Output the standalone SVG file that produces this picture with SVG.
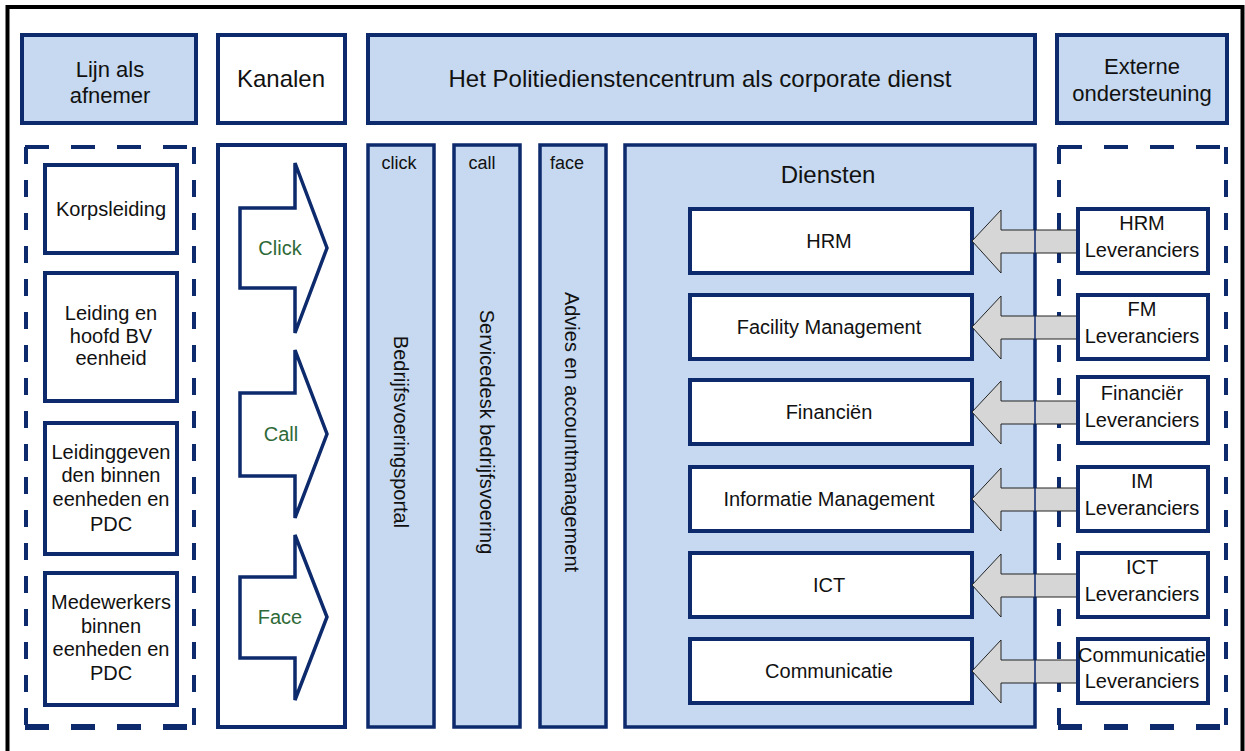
<svg xmlns="http://www.w3.org/2000/svg" width="1245" height="751" viewBox="0 0 1245 751">
<style>
text{font-family:"Liberation Sans",Arial,sans-serif;fill:#111;}
.blue{fill:#c6d9f0;stroke:#0c2a6c;stroke-width:4;}
.white{fill:#fff;stroke:#0c2a6c;stroke-width:4;}
.col{fill:#c6d9f0;stroke:#0c2a6c;stroke-width:3.5;}
.hdr{font-size:24px;text-anchor:middle;}
.hdr2{font-size:22px;text-anchor:middle;}
.lbl{font-size:20px;text-anchor:middle;}
.sm{font-size:18px;text-anchor:middle;}
.grn{font-size:20px;text-anchor:middle;fill:#2e6a38;}
.chan{fill:#fff;stroke:#0c2a6c;stroke-width:3.5;stroke-linejoin:miter;}
.dh{stroke:#0c2a6c;stroke-width:4;stroke-dasharray:24 22;fill:none;}
.dv{stroke:#0c2a6c;stroke-width:4;stroke-dasharray:17 16;fill:none;}
.garrow{fill:#d6d6d6;stroke:#222;stroke-width:1;}
</style>
<rect x="0" y="0" width="1245" height="751" fill="#fff"/>
<rect x="7.5" y="7" width="1235" height="800" fill="none" stroke="#000" stroke-width="4"/>

<!-- Header row -->
<g id="hdr-lijn">
<rect class="blue" x="22" y="35" width="174" height="88"/>
<text class="hdr2" x="110" y="77">Lijn als</text>
<text class="hdr2" x="110" y="103">afnemer</text>
</g>
<g id="hdr-kanalen">
<rect class="white" x="218" y="35" width="127" height="88"/>
<text class="hdr" x="281" y="87">Kanalen</text>
</g>
<g id="hdr-pdc">
<rect class="blue" x="368" y="35" width="667" height="88"/>
<text class="hdr" x="700" y="87">Het Politiedienstencentrum als corporate dienst</text>
</g>
<g id="hdr-extern">
<rect class="blue" x="1057" y="35" width="170" height="88"/>
<text class="hdr2" x="1142" y="74">Externe</text>
<text class="hdr2" x="1142" y="101">ondersteuning</text>
</g>

<!-- Left dashed container -->
<g id="lijn-container">
<line class="dh" x1="25" y1="147" x2="195" y2="147"/>
<line class="dh" x1="25" y1="727" x2="195" y2="727" style="stroke-width:6"/>
<line class="dv" x1="26" y1="147" x2="26" y2="727"/>
<line class="dv" x1="194" y1="147" x2="194" y2="727"/>
</g>
<g id="korpsleiding">
<rect class="white" x="45" y="165" width="132" height="88"/>
<text class="lbl" x="111" y="216">Korpsleiding</text>
</g>
<g id="leiding-hoofd">
<rect class="white" x="45" y="273" width="132" height="128"/>
<text class="lbl" x="111" y="320">Leiding en</text>
<text class="lbl" x="111" y="343">hoofd BV</text>
<text class="lbl" x="111" y="365">eenheid</text>
</g>
<g id="leidinggevenden">
<rect class="white" x="45" y="423" width="132" height="131"/>
<text class="lbl" x="111" y="459">Leidinggeven</text>
<text class="lbl" x="111" y="482">den binnen</text>
<text class="lbl" x="111" y="506">eenheden en</text>
<text class="lbl" x="111" y="531">PDC</text>
</g>
<g id="medewerkers">
<rect class="white" x="45" y="573" width="132" height="132"/>
<text class="lbl" x="111" y="609">Medewerkers</text>
<text class="lbl" x="111" y="633">binnen</text>
<text class="lbl" x="111" y="656">eenheden en</text>
<text class="lbl" x="111" y="680">PDC</text>
</g>

<!-- Kanalen column -->
<g id="kanalen-container">
<rect class="white" x="218" y="145" width="127" height="582"/>
</g>
<g id="kanaal-click">
<polygon class="chan" points="240,208 295,208 295,163 327,248 295,333 295,288 240,288"/>
<text class="grn" x="280" y="255">Click</text>
</g>
<g id="kanaal-call">
<polygon class="chan" points="240,393 295,393 295,350 327,434 295,518 295,476 240,476"/>
<text class="grn" x="281" y="441">Call</text>
</g>
<g id="kanaal-face">
<polygon class="chan" points="240,577 295,577 295,535 327,617 295,700 295,658 240,658"/>
<text class="grn" x="280" y="624">Face</text>
</g>

<!-- Channel columns -->
<g id="col-click">
<rect class="col" x="368" y="145" width="66" height="582"/>
<text class="sm" x="399" y="169">click</text>
<text class="lbl" transform="translate(401,432) rotate(90)" x="0" y="7">Bedrijfsvoeringsportal</text>
</g>
<g id="col-call">
<rect class="col" x="454" y="145" width="66" height="582"/>
<text class="sm" x="482" y="169">call</text>
<text class="lbl" transform="translate(487,432) rotate(90)" x="0" y="7">Servicedesk bedrijfsvoering</text>
</g>
<g id="col-face">
<rect class="col" x="540" y="145" width="66" height="582"/>
<text class="sm" x="567" y="169">face</text>
<text class="lbl" transform="translate(572,432) rotate(90)" x="0" y="7">Advies en accountmanagement</text>
</g>

<!-- Diensten -->
<g id="diensten">
<rect class="col" x="625" y="145" width="410" height="582"/>
<text class="hdr" x="828" y="183">Diensten</text>
</g>
<g id="d-hrm">
<rect class="white" x="690" y="209" width="282" height="64"/>
<text class="lbl" x="829" y="248">HRM</text>
</g>
<g id="d-fm">
<rect class="white" x="690" y="295" width="282" height="64"/>
<text class="lbl" x="829" y="334">Facility Management</text>
</g>
<g id="d-fin">
<rect class="white" x="690" y="380" width="282" height="64"/>
<text class="lbl" x="829" y="419">Financiën</text>
</g>
<g id="d-im">
<rect class="white" x="690" y="467" width="282" height="64"/>
<text class="lbl" x="829" y="506">Informatie Management</text>
</g>
<g id="d-ict">
<rect class="white" x="690" y="553" width="282" height="64"/>
<text class="lbl" x="829" y="592">ICT</text>
</g>
<g id="d-comm">
<rect class="white" x="690" y="639" width="282" height="64"/>
<text class="lbl" x="829" y="678">Communicatie</text>
</g>

<!-- Right dashed container -->
<g id="extern-container">
<line class="dh" x1="1058" y1="147" x2="1227" y2="147"/>
<line class="dh" x1="1058" y1="727" x2="1227" y2="727" style="stroke-width:6"/>
<line class="dv" x1="1059" y1="147" x2="1059" y2="727"/>
<line class="dv" x1="1226" y1="147" x2="1226" y2="727"/>
</g>

<!-- Connectors -->
<g id="connectors">
<polygon class="garrow" points="972,241 1001,210 1001,230 1078,230 1078,253 1001,253 1001,273"/>
<polygon class="garrow" points="972,327 1001,296 1001,316 1078,316 1078,339 1001,339 1001,359"/>
<polygon class="garrow" points="972,412 1001,381 1001,401 1078,401 1078,424 1001,424 1001,444"/>
<polygon class="garrow" points="972,499 1001,468 1001,488 1078,488 1078,511 1001,511 1001,531"/>
<polygon class="garrow" points="972,585 1001,554 1001,574 1078,574 1078,597 1001,597 1001,617"/>
<polygon class="garrow" points="972,671 1001,640 1001,660 1078,660 1078,683 1001,683 1001,703"/>
<line x1="1035" y1="145" x2="1035" y2="727" stroke="#0c2a6c" stroke-width="1.5"/>
</g>

<g id="l-hrm">
<rect class="white" x="1078" y="209" width="130" height="64"/>
<text class="lbl" x="1142" y="230">HRM</text>
<text class="lbl" x="1142" y="257">Leveranciers</text>
</g>
<g id="l-fm">
<rect class="white" x="1078" y="295" width="130" height="64"/>
<text class="lbl" x="1142" y="316">FM</text>
<text class="lbl" x="1142" y="343">Leveranciers</text>
</g>
<g id="l-fin">
<rect class="white" x="1078" y="377" width="130" height="66"/>
<text class="lbl" x="1142" y="400">Financiër</text>
<text class="lbl" x="1142" y="427">Leveranciers</text>
</g>
<g id="l-im">
<rect class="white" x="1078" y="467" width="130" height="64"/>
<text class="lbl" x="1142" y="488">IM</text>
<text class="lbl" x="1142" y="515">Leveranciers</text>
</g>
<g id="l-ict">
<rect class="white" x="1078" y="553" width="130" height="64"/>
<text class="lbl" x="1142" y="574">ICT</text>
<text class="lbl" x="1142" y="601">Leveranciers</text>
</g>
<g id="l-comm">
<rect class="white" x="1078" y="639" width="130" height="64"/>
<text class="lbl" x="1142" y="662">Communicatie</text>
<text class="lbl" x="1142" y="688">Leveranciers</text>
</g>
</svg>
